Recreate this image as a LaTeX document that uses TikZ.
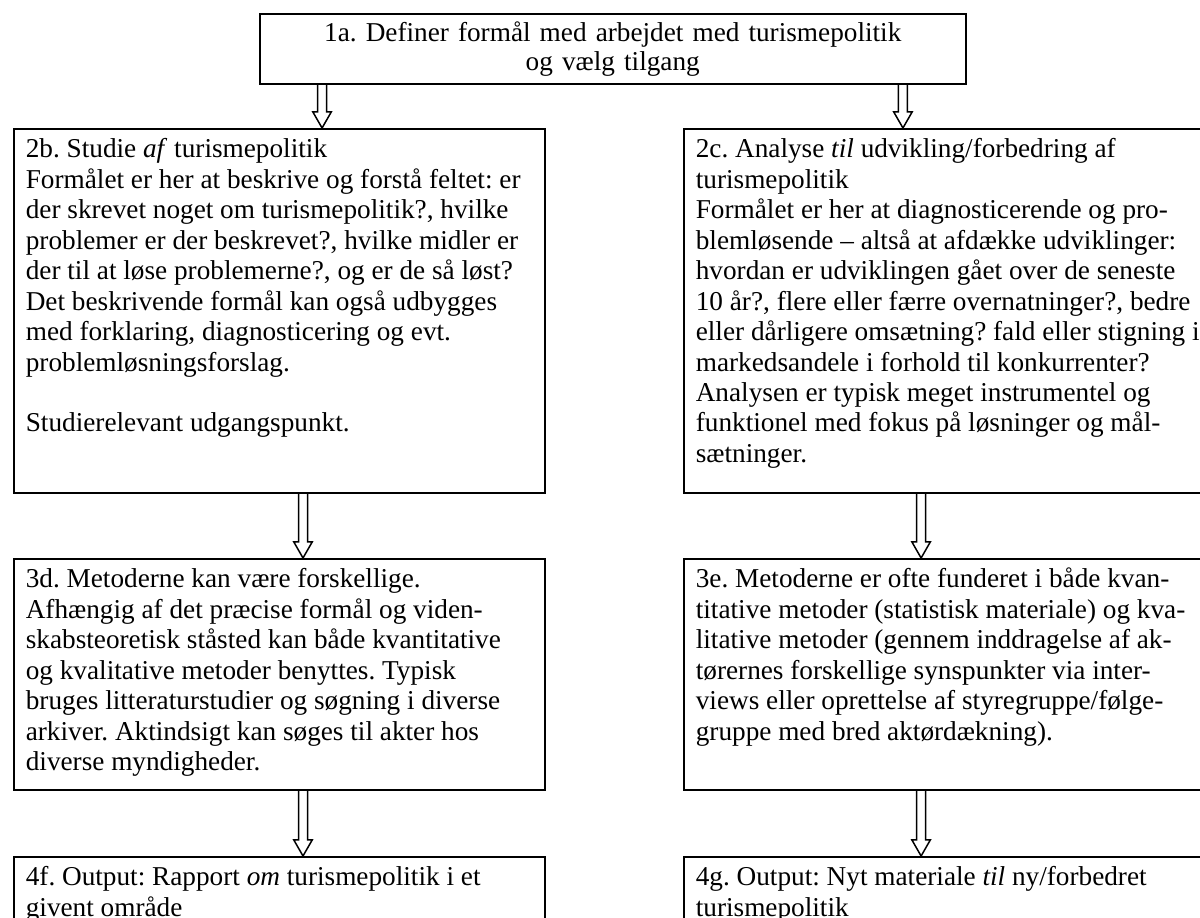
\documentclass[tikz,border=0pt]{standalone}
\usepackage{fontspec}
\setmainfont{Liberation Serif}
\usetikzlibrary{calc}
\frenchspacing

\newcommand{\panelbody}[3]{\parbox[t][#1][t]{#2}{\raggedright\strut #3}}

\tikzset{
  panel/.style={draw, line width=0.75pt, anchor=north west,
    inner xsep=5.6pt, inner ysep=3.6pt,
    font=\fontsize{12.7}{14.2}\selectfont},
  hollow/.style={line width=0.7pt, to path={
    let \p1=(\tikztostart), \p2=(\tikztotarget) in
    (\x1-2.1pt,\y1) -- (\x1-2.1pt,\y2+7.5pt) -- (\x1-4.3pt,\y2+7.5pt)
    -- (\x1,\y2) -- (\x1+4.3pt,\y2+7.5pt) -- (\x1+2.1pt,\y2+7.5pt)
    -- (\x1+2.1pt,\y1)}}
}

\begin{document}
\begin{tikzpicture}[x=0.4662pt,y=-0.4662pt]

  \useasboundingbox (0,0) rectangle (1200,918);

  %% Start box
  \node[panel, align=center, text width=317.9pt, minimum height=30.8pt,
    font=\fontsize{12.7}{13.5}\selectfont]
    (top) at (259,13) {1a. Definer formål med arbejdet med turismepolitik\\og vælg tilgang};

  %% Level 2
  \node[panel] (b2) at (13,128) {\panelbody{162.5pt}{236.4pt}{%
    2b. Studie \textit{af} turismepolitik\\
    Formålet er her at beskrive og forstå feltet: er\\
    der skrevet noget om turismepolitik?, hvilke\\
    problemer er der beskrevet?, hvilke midler er\\
    der til at løse problemerne?, og er de så løst?\\
    Det beskrivende formål kan også udbygges\\
    med forklaring, diagnosticering og evt.\\
    problemløsningsforslag.\\[14.2pt]
    Studierelevant udgangspunkt.}};
  \node[panel] (c2) at (683,128) {\panelbody{162.5pt}{248.5pt}{%
    2c. Analyse \textit{til} udvikling/forbedring af\\
    turismepolitik\\
    Formålet er her at diagnosticerende og pro-\\
    blemløsende – altså at afdække udviklinger:\\
    hvordan er udviklingen gået over de seneste\\
    10 år?, flere eller færre overnatninger?, bedre\\
    eller dårligere omsætning? fald eller stigning i\\
    markedsandele i forhold til konkurrenter?\\
    Analysen er typisk meget instrumentel og\\
    funktionel med fokus på løsninger og mål-\\
    sætninger.}};

  %% Level 3
  \node[panel] (d3) at (13,558) {\panelbody{100.5pt}{236.4pt}{%
    3d. Metoderne kan være forskellige.\\
    Afhængig af det præcise formål og viden-\\
    skabsteoretisk ståsted kan både kvantitative\\
    og kvalitative metoder benyttes. Typisk\\
    bruges litteraturstudier og søgning i diverse\\
    arkiver. Aktindsigt kan søges til akter hos\\
    diverse myndigheder.}};
  \node[panel] (e3) at (683,558) {\panelbody{100.5pt}{248.5pt}{%
    3e. Metoderne er ofte funderet i både kvan-\\
    titative metoder (statistisk materiale) og kva-\\
    litative metoder (gennem inddragelse af ak-\\
    tørernes forskellige synspunkter via inter-\\
    views eller oprettelse af styregruppe/følge-\\
    gruppe med bred aktørdækning).}};

  %% Level 4
  \node[panel] (f4) at (13,856) {\panelbody{48.8pt}{236.4pt}{%
    4f. Output: Rapport \textit{om} turismepolitik i et\\
    givent område}};
  \node[panel] (g4) at (683,856) {\panelbody{48.8pt}{248.5pt}{%
    4g. Output: Nyt materiale \textit{til} ny/forbedret\\
    turismepolitik}};

  %% Hollow arrows
  \draw[hollow] ([xshift=29.4pt]top.south west) to ([xshift=29.4pt]top.south west |- b2.north);
  \draw[hollow] ([xshift=300.2pt]top.south west) to ([xshift=300.2pt]top.south west |- c2.north);
  \draw[hollow] ([xshift=135.2pt]b2.south west) to ([xshift=135.2pt]d3.north west);
  \draw[hollow] ([xshift=111pt]c2.south west) to ([xshift=111pt]e3.north west);
  \draw[hollow] ([xshift=135.2pt]d3.south west) to ([xshift=135.2pt]f4.north west);
  \draw[hollow] ([xshift=111pt]e3.south west) to ([xshift=111pt]g4.north west);

\end{tikzpicture}
\end{document}
